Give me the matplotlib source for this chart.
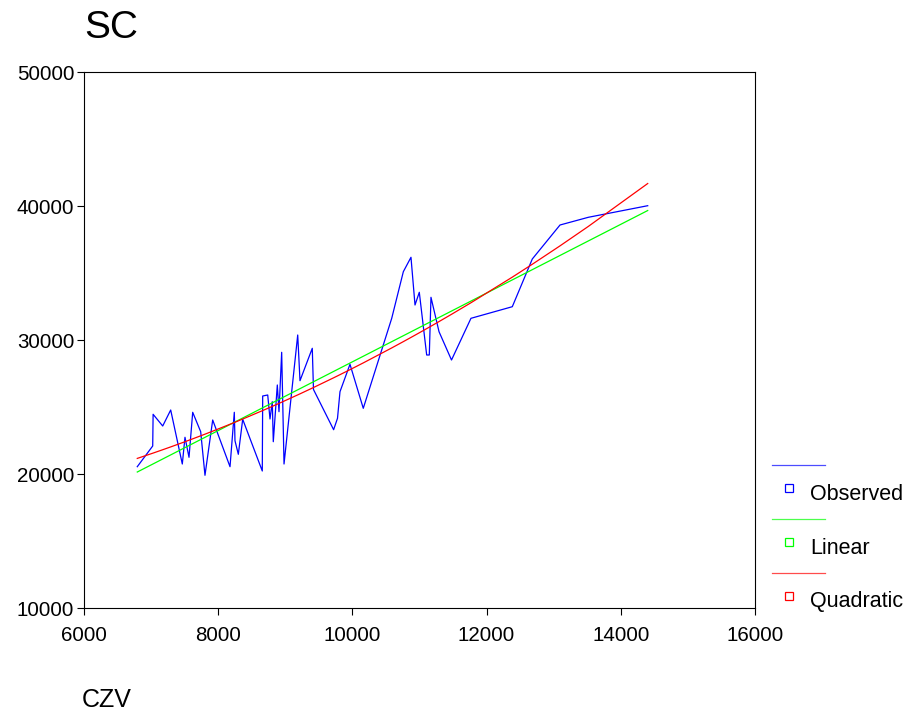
import numpy as np
import matplotlib
matplotlib.use("Agg")
import matplotlib.pyplot as plt
from matplotlib.lines import Line2D

plt.rcParams['font.family'] = ['Liberation Sans', 'DejaVu Sans']

# observed points (CZV, SC), sorted by CZV
czv = [6794, 7024, 7030, 7173, 7292, 7465, 7505, 7565, 7620, 7739,
       7803, 7918, 8176, 8240, 8250, 8300, 8365, 8657, 8663, 8738,
       8772, 8806, 8821, 8881, 8906, 8946, 8981, 9185, 9219, 9402,
       9420, 9720, 9778, 9815, 9964, 10162, 10586, 10759, 10873, 10933,
       10997, 11107, 11146, 11171, 11291, 11477, 11767, 12383, 12681, 13094,
       13516, 14401]
sc = [20545, 22090, 24455, 23582, 24776, 20746, 22739, 21246, 24604, 23157,
      19903, 24030, 20545, 24604, 22485, 21470, 24082, 20224, 25821, 25896,
      24105, 25396, 22410, 26642, 24649, 29082, 20746, 30373, 26963, 29381,
      26306, 23306, 24157, 26142, 28187, 24903, 31619, 35097, 36172, 32612,
      33560, 28881, 28881, 33187, 30620, 28507, 31619, 32485, 36045, 38582,
      39157, 40022]

x = np.array(czv, dtype=float)
y = np.array(sc, dtype=float)

# curve estimation: linear and quadratic least squares
lin = np.polyval(np.polyfit(x, y, 1), x)
quad = np.polyval(np.polyfit(x, y, 2), x)

fig = plt.figure(figsize=(9.08, 7.15), dpi=100)
ax = fig.add_axes([84/908, 1-608/715, (755-84)/908, (608-72)/715])

ax.plot(x, y, color='#0000ff', lw=0.9)
ax.plot(x, lin, color='#00ff00', lw=0.9)
ax.plot(x, quad, color='#ff0000', lw=0.9)

ax.set_xlim(6000, 16000)
ax.set_ylim(10000, 50000)
ax.set_xticks(np.arange(6000, 16001, 2000))
ax.set_yticks(np.arange(10000, 50001, 10000))
ax.tick_params(direction='out', length=5, width=0.8, labelsize=14.8)
ax.tick_params(axis='x', pad=8)
ax.tick_params(axis='y', pad=2)
for s in ax.spines.values():
    s.set_linewidth(0.8)

fig.text(84/908, 1-28/715, 'SC', fontsize=28, va='center', ha='left')
fig.text(82/908, 1-700/715, 'CZV', fontsize=18, va='center', ha='left')

# legend drawn by hand, outside on the right
names = ['Observed', 'Linear', 'Quadratic']
cols = ['#0000ff', '#00ff00', '#ff0000']
for i, (nm, c) in enumerate(zip(names, cols)):
    yl = 465 + i * 54
    ym = 488 + i * 54
    fig.add_artist(Line2D([772/908, 825/908], [1-yl/715, 1-yl/715], color=c, lw=0.9, alpha=0.7))
    fig.add_artist(Line2D([789/908], [1-ym/715], marker='s', ms=6, mfc='none', mec=c, mew=0.9, ls='none'))
    fig.text(810/908, 1-(ym+6)/715, nm, fontsize=15.5, va='center', ha='left')

fig.savefig('out.png', dpi=100)
